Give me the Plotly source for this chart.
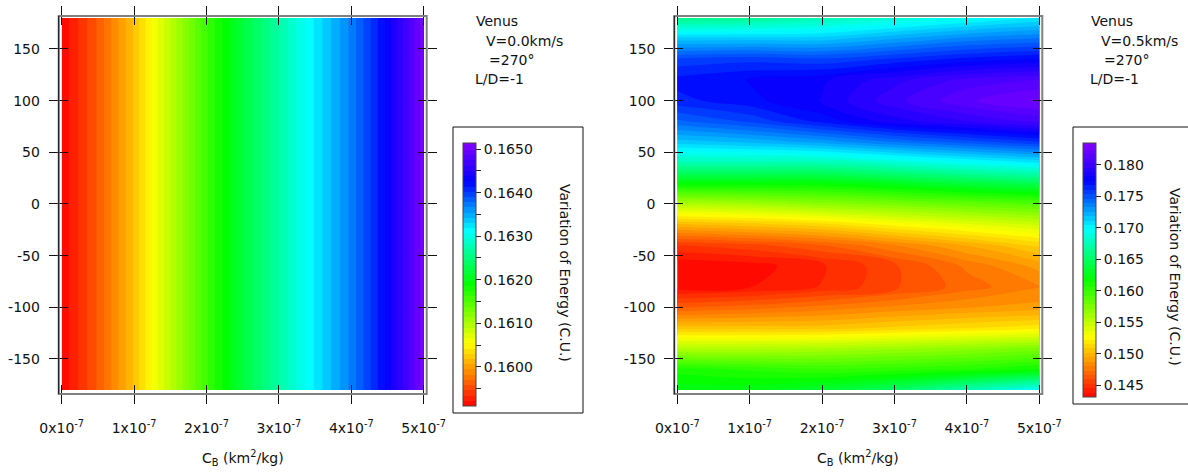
import plotly.graph_objects as go

W, H = 1188, 472
FONT = "DejaVu Sans"

# ---------------- data ----------------
cb_ticks = [0, 1e-7, 2e-7, 3e-7, 4e-7, 5e-7]
cb_ticktext = ["0x10<sup>-7</sup>", "1x10<sup>-7</sup>", "2x10<sup>-7</sup>",
               "3x10<sup>-7</sup>", "4x10<sup>-7</sup>", "5x10<sup>-7</sup>"]
angle_ticks = [-150, -100, -50, 0, 50, 100, 150]
angle_ticktext = ["-150", "-100", "-50", "0", "50", "100", "150"]

# left panel (V = 0.0 km/s): energy variation depends only on C_B
cb_left = [0, 0.5e-7, 1e-7, 1.5e-7, 2e-7, 2.5e-7, 3e-7, 3.5e-7, 4e-7, 4.5e-7, 5e-7]
energy_left = [0.15912, 0.1596, 0.1602, 0.1609, 0.1616, 0.1622,
               0.1627, 0.1632, 0.1637, 0.1643, 0.16505]
angle_left = [-180, 180]

# right panel (V = 0.5 km/s)
cb_right = [0, 1e-7, 2e-7, 3e-7, 4e-7, 5e-7]
angle_right = [-180, -160, -140, -120, -100, -80, -60, -40, -20, 0,
               20, 40, 60, 80, 100, 120, 140, 160, 180]
energy_cb0 = [0.1625, 0.1610, 0.1555, 0.1505, 0.1466, 0.1434, 0.1432, 0.1452, 0.1500, 0.1555,
              0.1620, 0.1675, 0.1715, 0.1745, 0.1765, 0.1770, 0.1755, 0.1715, 0.1660]
energy_cb1 = [0.1625, 0.1605, 0.1555, 0.1505, 0.1470, 0.1438, 0.1435, 0.1457, 0.1505, 0.1560,
              0.1620, 0.1675, 0.1720, 0.1755, 0.1772, 0.1775, 0.1758, 0.1715, 0.1665]
energy_cb2 = [0.1635, 0.1600, 0.1558, 0.1505, 0.1476, 0.1446, 0.1444, 0.1466, 0.1512, 0.1568,
              0.1620, 0.1675, 0.1728, 0.1770, 0.1782, 0.1780, 0.1755, 0.1715, 0.1675]
energy_cb3 = [0.1650, 0.1603, 0.1563, 0.1510, 0.1482, 0.1458, 0.1458, 0.1480, 0.1525, 0.1575,
              0.1628, 0.1685, 0.1740, 0.1785, 0.1800, 0.1793, 0.1762, 0.1725, 0.1685]
energy_cb4 = [0.1675, 0.1607, 0.1568, 0.1515, 0.1487, 0.1470, 0.1475, 0.1495, 0.1535, 0.1583,
              0.1638, 0.1695, 0.1750, 0.1795, 0.1815, 0.1805, 0.1770, 0.1735, 0.1695]
energy_cb5 = [0.1700, 0.1615, 0.1575, 0.1520, 0.1490, 0.1480, 0.1490, 0.1510, 0.1545, 0.1590,
              0.1645, 0.1705, 0.1760, 0.1805, 0.1825, 0.1810, 0.1775, 0.1740, 0.1705]

left_cbar_ticks = [0.1595, 0.1600, 0.1605, 0.1610, 0.1615, 0.1620, 0.1625,
                   0.1630, 0.1635, 0.1640, 0.1645, 0.1650]
left_cbar_text = ["", "0.1600", "", "0.1610", "", "0.1620", "",
                  "0.1630", "", "0.1640", "", "0.1650"]
right_cbar_ticks = [0.145, 0.150, 0.155, 0.160, 0.165, 0.170, 0.175, 0.180]
right_cbar_text = ["0.145", "0.150", "0.155", "0.160", "0.165", "0.170", "0.175", "0.180"]

rainbow = [[0, "#ff0000"], [0.12, "#ff8000"], [0.24, "#ffff00"], [0.47, "#00ff00"],
           [0.67, "#00ffff"], [0.86, "#0000ff"], [1, "#8000ff"]]

# ---------------- tables ----------------
z_left = [list(energy_left) for _ in angle_left]
cols = [energy_cb0, energy_cb1, energy_cb2, energy_cb3, energy_cb4, energy_cb5]
z_right = [[c[i] for c in cols] for i in range(len(angle_right))]

def px(x):
    return x / W

def py(y):
    return 1 - y / H

fig = go.Figure()

L_ZMIN, L_ZMAX = 0.15910, 0.16514
R_ZMIN, R_ZMAX = 0.14314, 0.18345

fig.add_trace(go.Contour(
    x=cb_left, y=angle_left, z=z_left, xaxis="x", yaxis="y",
    colorscale=rainbow, zmin=L_ZMIN, zmax=L_ZMAX, zauto=False,
    contours=dict(start=L_ZMIN, end=L_ZMAX, size=0.00012, coloring="fill", showlines=False),
    line=dict(width=0),
    colorbar=dict(x=px(463), xanchor="left", y=py(143), yanchor="top",
                  len=263, lenmode="pixels", thickness=13, thicknessmode="pixels",
                  xpad=0, ypad=0, outlinecolor="#444", outlinewidth=1,
                  tickmode="array", tickvals=left_cbar_ticks, ticktext=left_cbar_text,
                  ticks="outside", ticklen=5, tickcolor="#222",
                  tickfont=dict(family=FONT, size=14, color="#111"),
                  bgcolor="rgba(0,0,0,0)", borderwidth=0),
    hoverinfo="skip",
))

fig.add_trace(go.Contour(
    x=cb_right, y=angle_right, z=z_right, xaxis="x2", yaxis="y2",
    colorscale=rainbow, zmin=R_ZMIN, zmax=R_ZMAX, zauto=False,
    contours=dict(start=R_ZMIN, end=R_ZMAX, size=0.0007, coloring="fill", showlines=False),
    line=dict(width=0),
    colorbar=dict(x=px(1083), xanchor="left", y=py(143), yanchor="top",
                  len=254, lenmode="pixels", thickness=13, thicknessmode="pixels",
                  xpad=0, ypad=0, outlinecolor="#444", outlinewidth=1,
                  tickmode="array", tickvals=right_cbar_ticks, ticktext=right_cbar_text,
                  ticks="outside", ticklen=5, tickcolor="#222",
                  tickfont=dict(family=FONT, size=14, color="#111"),
                  bgcolor="rgba(0,0,0,0)", borderwidth=0),
    hoverinfo="skip",
))

# dummy traces so the overlay axes (inside ticks) are drawn
fig.add_trace(go.Scatter(x=[None], y=[None], xaxis="x3", yaxis="y3", showlegend=False, hoverinfo="skip"))
fig.add_trace(go.Scatter(x=[None], y=[None], xaxis="x4", yaxis="y4", showlegend=False, hoverinfo="skip"))

XR = [-0.0414e-7, 5.0414e-7]
YR = [-183.9, 181.9]
YDOM = [py(394), py(16)]
XDOM_L = [px(58.7), px(426.7)]
XDOM_R = [px(674.3), px(1042.3)]

tickfont = dict(family=FONT, size=14, color="#111")
common_x = dict(range=XR, tickmode="array", tickvals=cb_ticks, showgrid=False, zeroline=False,
                showline=False, ticklen=9, tickwidth=1, tickcolor="#111", automargin=False)
common_y = dict(range=YR, tickmode="array", tickvals=angle_ticks, showgrid=False, zeroline=False,
                showline=False, ticklen=9, tickwidth=1, tickcolor="#111", automargin=False)

fig.update_layout(
    width=W, height=H, margin=dict(l=0, r=0, t=0, b=0, autoexpand=False),
    paper_bgcolor="white", plot_bgcolor="white", showlegend=False,
    font=dict(family=FONT, size=14, color="#111"),
    xaxis=dict(domain=XDOM_L, anchor="y", ticks="outside", mirror="ticks",
               ticktext=cb_ticktext, tickfont=tickfont, ticklabelstandoff=12, **common_x),
    yaxis=dict(domain=YDOM, anchor="x", ticks="outside", mirror="ticks",
               ticktext=angle_ticktext, tickfont=tickfont, ticklabelstandoff=6, **common_y),
    xaxis2=dict(domain=XDOM_R, anchor="y2", ticks="outside", mirror="ticks",
                ticktext=cb_ticktext, tickfont=tickfont, ticklabelstandoff=12, **common_x),
    yaxis2=dict(domain=YDOM, anchor="x2", ticks="outside", mirror="ticks",
                ticktext=angle_ticktext, tickfont=tickfont, ticklabelstandoff=6, **common_y),
    xaxis3=dict(overlaying="x", anchor="y3", ticks="inside", mirror="ticks",
                showticklabels=False, **common_x),
    yaxis3=dict(overlaying="y", anchor="x3", ticks="inside", mirror="ticks",
                showticklabels=False, **common_y),
    xaxis4=dict(overlaying="x2", anchor="y4", ticks="inside", mirror="ticks",
                showticklabels=False, **common_x),
    yaxis4=dict(overlaying="y2", anchor="x4", ticks="inside", mirror="ticks",
                showticklabels=False, **common_y),
)

shapes = []
for xr, yr in (("x domain", "y domain"), ("x2 domain", "y2 domain")):
    shapes.append(dict(type="rect", xref=xr, yref=yr, x0=0, x1=1, y0=0, y1=1,
                       line=dict(color="#808080", width=2), layer="above"))
    shapes.append(dict(type="line", xref=xr, yref=yr, x0=0, x1=0, y0=0, y1=1,
                       line=dict(color="#111", width=1), layer="above"))
# colorbar boxes
shapes.append(dict(type="rect", xref="paper", yref="paper", x0=px(453), x1=px(583),
                   y0=py(413), y1=py(127), line=dict(color="#111", width=1)))
shapes.append(dict(type="rect", xref="paper", yref="paper", x0=px(1073), x1=px(1195),
                   y0=py(404), y1=py(127), line=dict(color="#111", width=1)))
fig.update_layout(shapes=shapes)

ann = []
def text(x, y, s, **kw):
    d = dict(x=px(x), y=py(y), xref="paper", yref="paper", text=s, showarrow=False,
             xanchor="left", yanchor="middle", font=dict(family=FONT, size=14, color="#111"))
    d.update(kw)
    ann.append(d)

for dx, v in ((0, "V=0.0km/s"), (615, "V=0.5km/s")):
    text(474 + dx, 21, "Venus")
    text(484 + dx, 41, v)
    text(487 + dx, 60, "=270°")
    text(473 + dx, 79, "L/D=-1")

for cx in (243, 858):
    text(cx, 458, "C<sub>B</sub> (km<sup>2</sup>/kg)", xanchor="center")

text(565, 273, "Variation of Energy (C.U.)", xanchor="center", textangle=90)
text(1175, 277, "Variation of Energy (C.U.)", xanchor="center", textangle=90)
fig.update_layout(annotations=ann)

fig.write_html("out.html")
